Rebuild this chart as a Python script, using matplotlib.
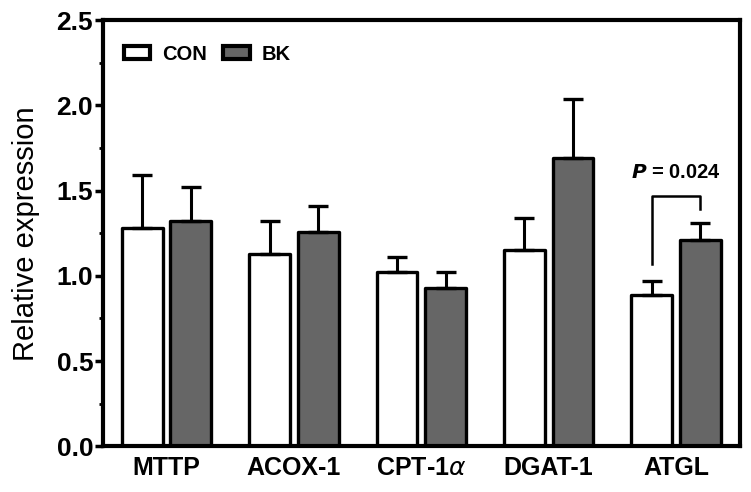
import numpy as np
import matplotlib
matplotlib.use("Agg")
import matplotlib.pyplot as plt
from matplotlib.ticker import MultipleLocator

plt.rcParams['font.family'] = ['Liberation Sans', 'DejaVu Sans']

genes = ["MTTP", "ACOX-1", "CPT-1$\\alpha$", "DGAT-1", "ATGL"]
con = [1.28, 1.13, 1.02, 1.15, 0.89]
con_err = [0.31, 0.19, 0.09, 0.19, 0.08]
bk = [1.32, 1.26, 0.93, 1.69, 1.21]
bk_err = [0.20, 0.15, 0.09, 0.35, 0.10]
p_label = "$\\boldsymbol{P}$ = 0.024"

fig = plt.figure(figsize=(7.51, 4.92), dpi=100)
ax = fig.add_axes([0.137, 0.093, 0.848, 0.866])

x = np.arange(len(genes))
w = 0.32
off = 0.19
ebar = dict(ecolor="black", elinewidth=2.2, capsize=7, capthick=2.4)

ax.bar(x - off, con, w, yerr=[np.zeros(len(con)), con_err], color="white",
       edgecolor="black", linewidth=2.4, joinstyle="round", label="CON",
       error_kw=ebar, zorder=2)
ax.bar(x + off, bk, w, yerr=[np.zeros(len(bk)), bk_err], color="#666666",
       edgecolor="black", linewidth=2.4, joinstyle="round", label="BK",
       error_kw=ebar, zorder=2)

# bracket ATGL
i = 4
y_top = 1.47
ax.plot([i - off, i - off, i + off, i + off],
        [con[i] + con_err[i] + 0.1, y_top, y_top, bk[i] + bk_err[i] + 0.08],
        color="black", lw=1.8)
ax.text(i, y_top + 0.08, p_label, ha="center", va="bottom", fontsize=14.5,
        fontweight="bold")

ax.set_xlim(-0.5, 4.5)
ax.set_ylim(0, 2.5)
ax.yaxis.set_major_locator(MultipleLocator(0.5))
ax.yaxis.set_minor_locator(MultipleLocator(0.25))
ax.yaxis.set_major_formatter(plt.FormatStrFormatter("%.1f"))
ax.set_xticks(x)
ax.set_xticklabels(genes, fontsize=18, fontweight="bold")
ax.tick_params(axis="x", length=0, pad=7)
ax.tick_params(axis="y", which="major", length=6, width=2.5, labelsize=19, pad=1)
ax.tick_params(axis="y", which="minor", length=3, width=2)
for lab in ax.get_yticklabels():
    lab.set_fontweight("bold")
for s in ax.spines.values():
    s.set_linewidth(3)
ax.set_ylabel("Relative expression", fontsize=21, labelpad=12)

leg = ax.legend(loc="upper left", ncol=2, frameon=False,
                prop={"weight": "bold", "size": 14.5}, handlelength=1.3,
                handleheight=0.6, columnspacing=0.8, handletextpad=0.6,
                bbox_to_anchor=(0.005, 0.985))
for h in leg.legend_handles:
    h.set_linewidth(3)

fig.savefig("out.png", dpi=100)
